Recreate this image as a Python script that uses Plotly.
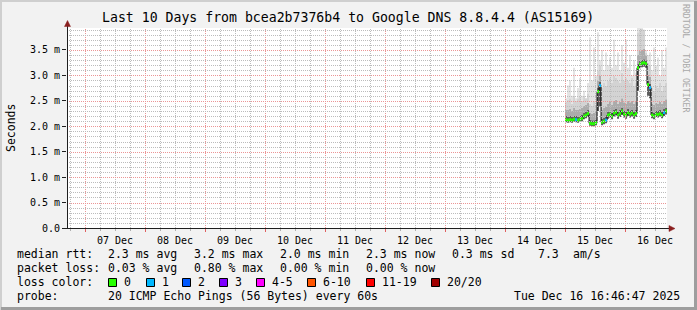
import math
import plotly.graph_objects as go
import pandas as pd

# ---------------- data ----------------
title_text = "Last 10 Days from bcea2b7376b4 to Google DNS 8.8.4.4 (AS15169)"
range_start = "2025-12-06 16:46:47"
range_end = "2025-12-16 16:46:47"
data_start = "2025-12-15 00:00:00"
step_minutes = 48

median_ms = [2.13, 2.12, 2.13, 2.12, 2.14, 2.13, 2.12, 2.14, 2.15,
             2.20, 2.22, 2.25,
             2.06, 2.05, 2.05, 2.07,
             2.68, 2.80,
             2.08, 2.10, 2.12,
             2.22, 2.24, 2.20,
             2.26, 2.28, 2.22, 2.25, 2.30, 2.24, 2.22, 2.27, 2.24, 2.26, 2.22, 2.25,
             3.15,
             3.22, 3.24, 3.25, 3.23,
             2.82, 2.76,
             2.22, 2.20, 2.24, 2.23, 2.25, 2.22, 2.27, 2.30]
smoke_min = [2.08, 2.07, 2.08, 2.07, 2.09, 2.08, 2.07, 2.09, 2.10,
             2.14, 2.16, 2.18,
             2.01, 2.00, 2.00, 2.02,
             2.30, 2.40,
             2.02, 2.04, 2.06,
             2.15, 2.17, 2.14,
             2.19, 2.21, 2.15, 2.18, 2.22, 2.17, 2.15, 2.20, 2.17, 2.19, 2.15, 2.18,
             2.70,
             3.14, 3.16, 3.17, 3.15,
             2.60, 2.55,
             2.16, 2.14, 2.18, 2.17, 2.19, 2.16, 2.20, 2.23]
smoke_dark = [2.20, 2.19, 2.20, 2.19, 2.21, 2.20, 2.19, 2.21, 2.22,
              2.27, 2.29, 2.32,
              2.13, 2.12, 2.12, 2.14,
              2.75, 2.87,
              2.15, 2.17, 2.19,
              2.29, 2.31, 2.27,
              2.33, 2.35, 2.29, 2.32, 2.37, 2.31, 2.29, 2.34, 2.31, 2.33, 2.29, 2.32,
              3.22,
              3.29, 3.31, 3.32, 3.30,
              2.89, 2.83,
              2.29, 2.27, 2.31, 2.30, 2.32, 2.29, 2.34, 2.37]
smoke_mid = [2.33, 2.32, 2.35, 2.31, 2.36, 2.33, 2.32, 2.35, 2.36,
             2.41, 2.43, 2.46,
             2.26, 2.25, 2.27, 2.28,
             2.90, 3.00,
             2.32, 2.36, 2.38,
             2.45, 2.48, 2.43,
             2.50, 2.52, 2.45, 2.48, 2.55, 2.47, 2.45, 2.50, 2.47, 2.50, 2.44, 2.48,
             3.40,
             3.48, 3.50, 3.52, 3.38,
             3.02, 2.97,
             2.44, 2.42, 2.46, 2.45, 2.48, 2.44, 2.50, 2.53]
smoke_bulk = [2.48, 2.52, 2.55, 2.45, 2.60, 2.50, 2.55, 2.58, 2.50,
              2.60, 2.55, 2.65,
              2.45, 2.40, 2.50, 2.42,
              3.10, 3.20,
              2.75, 2.85, 2.80,
              2.90, 2.95, 2.85,
              3.00, 2.95, 2.90, 2.85, 3.05, 2.90, 2.95, 2.90, 2.85, 2.95, 2.80, 2.85,
              3.85,
              3.90, 3.92, 3.90, 3.45,
              3.25, 3.20,
              2.75, 2.70, 2.80, 2.75, 2.85, 2.70, 2.80, 2.85]
smoke_max = [2.55, 2.80, 2.90, 2.60, 3.15, 2.55, 2.75, 2.95, 2.60,
             2.70, 2.55, 2.85,
             3.75, 2.90, 3.55, 3.00,
             3.85, 3.30,
             3.50, 3.10, 3.45,
             3.20, 3.35, 3.15,
             3.70, 3.20, 3.45, 3.10, 3.60, 3.25, 3.70, 3.15, 3.40, 3.00, 3.30, 3.05,
             3.95,
             3.95, 3.95, 3.90, 3.50,
             3.40, 3.45,
             3.10, 3.55, 3.20, 3.35, 3.00, 3.50, 3.15, 3.55]
lost_pings = [0, 0, 0, 0, 0, 1, 0, 0, 0,
              0, 0, 0,
              0, 0, 0, 0,
              0, 1,
              0, 0, 1,
              0, 0, 0,
              0, 0, 0, 0, 0, 0, 0, 0, 0, 0, 0, 0,
              0,
              0, 0, 0, 0,
              0, 1,
              0, 0, 0, 0, 0, 0, 1, 0]

y_tick_vals = [0.0, 0.5, 1.0, 1.5, 2.0, 2.5, 3.0, 3.5]
y_tick_text = ["0.0", "0.5 m", "1.0 m", "1.5 m", "2.0 m", "2.5 m", "3.0 m", "3.5 m"]
y_minor_step = 0.1
y_max = 3.932

row_rtt = [("median rtt:", 16), ("2.3 ms avg", 107), ("3.2 ms max", 193), ("2.0 ms min", 279),
           ("2.3 ms now", 365), ("0.3 ms sd", 451), ("7.3", 537), ("am/s", 572)]
row_loss = [("packet loss:", 16), ("0.03 % avg", 107), ("0.80 % max", 193),
            ("0.00 % min", 279), ("0.00 % now", 365)]
loss_labels = ["0", "1", "2", "3", "4-5", "6-10", "11-19", "20/20"]
loss_colors = ["#26ff00", "#00b8ff", "#0059ff", "#7e00ff", "#ff00ff", "#ff5500", "#ff0000", "#a10000"]
loss_box_x = [108, 146, 182, 219, 256, 307, 366, 431]
probe_text = "20 ICMP Echo Pings (56 Bytes) every 60s"
stamp_text = "Tue Dec 16 16:46:47 2025"

# ---------------- layout geometry ----------------
W, H = 697, 310
PL, PT, PW, PH = 67, 28, 600, 200
FONT = "DejaVu Sans Mono"
MGRID = "#ec9696"
GRID = "#bcbcbc"


def px(xp):
    return (xp - PL) / PW


def py(yp):
    return (PT + PH - yp) / PH


t_start = pd.Timestamp(range_start)
t_end = pd.Timestamp(range_end)
span = (t_end - t_start).total_seconds()


def time_col(t):
    # pixel column (crisp centre) of a time on the x axis
    return math.floor(PL + (t - t_start).total_seconds() / span * PW) + 0.5


def value_row(v):
    # pixel row (crisp centre) of a value on the y axis
    return round(PT + PH - v * PH / y_max) + 0.5


times = list(pd.date_range(data_start, periods=len(median_ms), freq=f"{step_minutes}min"))
next_t = [min(t + pd.Timedelta(minutes=step_minutes), t_end) for t in times]
step_x = times + [t_end]


def stepped(vals):
    return list(vals) + [vals[-1]]


fig = go.Figure()

# smoke bands
bands = [(smoke_min, None), (smoke_dark, "#5c5c5c"), (smoke_mid, "#ababab"),
         (smoke_bulk, "#d3d3d3"), (smoke_max, "#e3e3e3")]
for vals, col in bands:
    fig.add_trace(go.Scatter(
        x=step_x, y=stepped(vals), mode="lines", line=dict(width=0, shape="hv"),
        fill=None if col is None else "tonexty", fillcolor=col,
        hoverinfo="skip", showlegend=False))

# median line
fig.add_trace(go.Scatter(x=step_x, y=stepped(median_ms), mode="lines",
                         line=dict(color="#000000", width=1, shape="hv"),
                         hoverinfo="skip", showlegend=False))

# loss colored segments
for cls in sorted(set(lost_pings)):
    xs, ys = [], []
    for t, nt, m, l in zip(times, next_t, median_ms, lost_pings):
        if l == cls:
            xs += [t, nt, None]
            ys += [m, m, None]
    fig.add_trace(go.Scatter(x=xs, y=ys, mode="lines",
                             line=dict(color=loss_colors[cls], width=3),
                             hoverinfo="skip", showlegend=False))

shapes = []
# grid (dotted, crisp pixel positions like rrdtool)
grid_times = pd.date_range(t_start.ceil("6h"), t_end, freq="6h")
for t in grid_times:
    c = time_col(t)
    col = MGRID if t.hour == 0 else GRID
    shapes.append(dict(type="line", xref="paper", yref="paper", x0=px(c), x1=px(c),
                       y0=py(PT + PH), y1=py(PT), line=dict(color=col, width=1, dash="1px,1px"),
                       layer="above"))
n_minor = int(y_max / y_minor_step)
for k in range(1, n_minor + 1):
    v = k * y_minor_step
    r = value_row(v)
    is_major = any(abs(v - tv) < 1e-9 for tv in y_tick_vals)
    shapes.append(dict(type="line", xref="paper", yref="paper", x0=px(PL), x1=px(PL + PW),
                       y0=py(r), y1=py(r),
                       line=dict(color=MGRID if is_major else GRID, width=1, dash="1px,1px"),
                       layer="above"))

# frame shading
shapes.append(dict(type="rect", xref="paper", yref="paper", x0=px(0), x1=px(W), y0=py(0), y1=py(2),
                   fillcolor="#cfcfcf", line_width=0, layer="above"))
shapes.append(dict(type="rect", xref="paper", yref="paper", x0=px(0), x1=px(2), y0=py(0), y1=py(H),
                   fillcolor="#cfcfcf", line_width=0, layer="above"))
shapes.append(dict(type="rect", xref="paper", yref="paper", x0=px(W - 3), x1=px(W), y0=py(1), y1=py(H),
                   fillcolor="#9e9e9e", line_width=0, layer="above"))
shapes.append(dict(type="rect", xref="paper", yref="paper", x0=px(1), x1=px(W), y0=py(H - 3), y1=py(H),
                   fillcolor="#9e9e9e", line_width=0, layer="above"))
# axes lines
shapes.append(dict(type="line", xref="paper", yref="paper", x0=px(67.5), x1=px(67.5), y0=py(228.5), y1=py(23),
                   line=dict(color="#1f1f1f", width=1), layer="above"))
shapes.append(dict(type="line", xref="paper", yref="paper", x0=px(62), x1=px(671), y0=py(228.5), y1=py(228.5),
                   line=dict(color="#1f1f1f", width=1), layer="above"))
# arrow heads
shapes.append(dict(type="path", xref="paper", yref="paper",
                   path=f"M {px(64.5)},{py(26.5)} L {px(70.5)},{py(26.5)} L {px(67.5)},{py(20.5)} Z",
                   fillcolor="#8a1f1f", line=dict(color="#8a1f1f", width=0.5), layer="above"))
shapes.append(dict(type="path", xref="paper", yref="paper",
                   path=f"M {px(669)},{py(225.5)} L {px(669)},{py(231.5)} L {px(675)},{py(228.5)} Z",
                   fillcolor="#8a1f1f", line=dict(color="#8a1f1f", width=0.5), layer="above"))
# loss color boxes
for bx, col in zip(loss_box_x, loss_colors):
    shapes.append(dict(type="rect", xref="paper", yref="paper", x0=px(bx + 0.5), x1=px(bx + 8.5),
                       y0=py(286.5), y1=py(278.5), fillcolor=col,
                       line=dict(color="#000000", width=1), layer="above"))

annotations = []


def txt(text, x, y, size=11.5, anchor="left", color="#000000", angle=0):
    annotations.append(dict(text=text, xref="paper", yref="paper", x=px(x), y=py(y),
                            xanchor=anchor, yanchor="middle", showarrow=False, textangle=angle,
                            font=dict(family=FONT, size=size, color=color), borderpad=0))


txt(title_text, 348, 18, size=13.2, anchor="center")
txt("Seconds", 11, 128, size=11.5, anchor="center", angle=-90)
txt("RRDTOOL / TOBI OETIKER", 686, 58, size=8.2, anchor="center", color="#a8a8a8", angle=90)
for s, x in row_rtt:
    txt(s, x, 254)
for s, x in row_loss:
    txt(s, x, 268)
txt("loss color:", 16, 282)
for lbl, bx in zip(loss_labels, loss_box_x):
    txt(lbl, bx + 14.5, 282)
txt("probe:", 16, 296)
txt(probe_text, 107, 296)
txt(stamp_text, 681, 296, anchor="right")

fig.update_layout(
    width=W, height=H,
    margin=dict(l=PL, r=W - PL - PW, t=PT, b=H - PT - PH, pad=0),
    paper_bgcolor="#f2f2f2", plot_bgcolor="#ffffff",
    showlegend=False, shapes=shapes, annotations=annotations,
    font=dict(family=FONT, size=10, color="#000000"),
)
fig.update_xaxes(
    type="date", range=[range_start, range_end],
    tick0="2025-12-07", dtick=86400000, tickformat="%d %b", ticklabelmode="period",
    showgrid=False,
    ticks="outside", ticklen=3, tickcolor="#e06060",
    tickfont=dict(family=FONT, size=10, color="#000000"),
    minor=dict(tick0="2025-12-07", dtick=6 * 3600 * 1000, showgrid=False,
               ticks="outside", ticklen=2, tickcolor="#b0b0b0"),
    showline=False, zeroline=False, fixedrange=True,
)
fig.update_yaxes(
    range=[0, y_max], tickvals=y_tick_vals, ticktext=y_tick_text,
    showgrid=False,
    ticks="outside", ticklen=4, tickcolor="#1f1f1f",
    tickfont=dict(family=FONT, size=10, color="#000000"),
    showline=False, zeroline=False, fixedrange=True,
)

fig.write_html("out.html", config={"displayModeBar": False, "staticPlot": True})
